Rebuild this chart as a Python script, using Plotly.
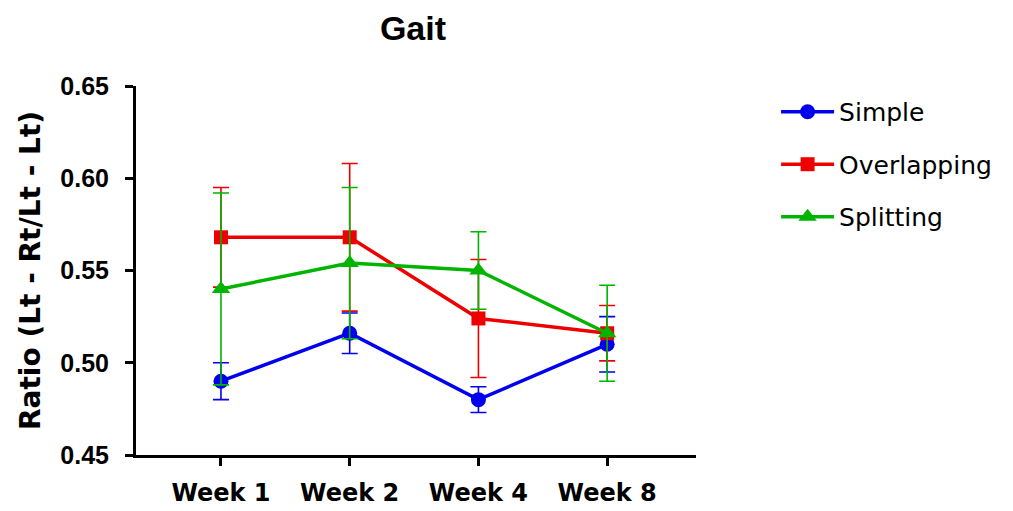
import plotly.graph_objects as go

weeks = ["Week 1", "Week 2", "Week 4", "Week 8"]
x_pos = [0, 1, 2, 3]

simple_mean = [0.490, 0.516, 0.480, 0.510]
simple_err = [0.010, 0.011, 0.007, 0.015]

overlap_mean = [0.568, 0.568, 0.524, 0.516]
overlap_err = [0.027, 0.040, 0.032, 0.015]

split_mean = [0.540, 0.554, 0.550, 0.516]
split_err = [0.052, 0.041, 0.021, 0.026]

series = [
    ("Simple", simple_mean, simple_err, "#0000ee", "circle", 15),
    ("Overlapping", overlap_mean, overlap_err, "#ee0000", "square", 14),
    ("Splitting", split_mean, split_err, "#00b400", "triangle-up", 16),
]

ARIAL = "Liberation Sans, Arial, sans-serif"
WIDE = "DejaVu Sans, sans-serif"

fig = go.Figure()
for i, (name, m, e, c, sym, sz) in enumerate(series):
    fig.add_trace(go.Scatter(
        x=x_pos, y=m, name=name, mode="lines+markers",
        line=dict(color=c, width=3.5),
        marker=dict(color=c, symbol=sym, size=sz),
        error_y=dict(type="data", array=e, visible=True, color=c, thickness=1.6, width=8),
        legendgroup=f"g{i}",
    ))

fig.update_layout(
    width=1013, height=511,
    paper_bgcolor="white", plot_bgcolor="white",
    margin=dict(l=128, r=325, t=78, b=57),
    title=dict(text="Gait", x=0.3998, xanchor="center", y=0.961, yanchor="middle",
               font=dict(family=ARIAL, size=34, color="black", weight="bold")),
    legend=dict(x=1.143, y=0.992, xanchor="left", yanchor="top",
                font=dict(family=WIDE, size=25, color="black"),
                itemwidth=53, tracegroupgap=17, bgcolor="rgba(0,0,0,0)"),
    showlegend=True,
)
fig.update_xaxes(
    range=[-0.66, 3.69], tickvals=x_pos, ticktext=weeks,
    showline=True, linecolor="black", linewidth=3,
    ticks="outside", ticklen=8, tickwidth=3, tickcolor="black",
    showgrid=False, zeroline=False, ticklabelstandoff=6,
    tickfont=dict(family=WIDE, size=24, color="black", weight="bold"),
)
fig.update_yaxes(
    range=[0.45, 0.65], dtick=0.05, tick0=0.45, tickformat=".2f",
    showline=True, linecolor="black", linewidth=3,
    ticks="outside", ticklen=8, tickwidth=3, tickcolor="black",
    showgrid=False, zeroline=False, ticklabelstandoff=11,
    tickfont=dict(family=ARIAL, size=25, color="black", weight="bold"),
    title=dict(text="Ratio (Lt - Rt/Lt - Lt)", standoff=12,
               font=dict(family=WIDE, size=28, color="black", weight="bold")),
)

fig.write_html("out.html")
